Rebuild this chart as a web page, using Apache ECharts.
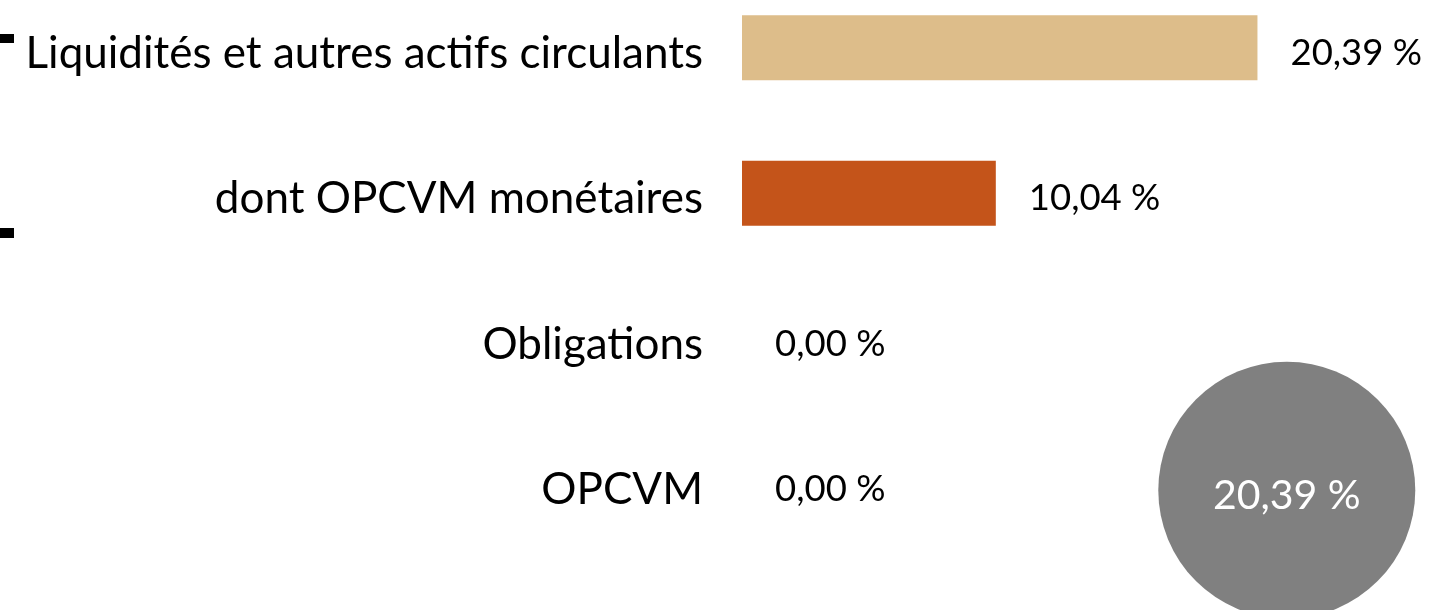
<!DOCTYPE html>
<html>
<head>
<meta charset="utf-8">
<script src="https://cdn.jsdelivr.net/npm/echarts@6/dist/echarts.min.js"></script>
<style>
html,body{margin:0;padding:0;background:#fff;}
#c{width:1431px;height:610px;}
</style>
</head>
<body>
<div id="c"></div>
<script>
const categories = ['Liquidités et autres actifs circulants', 'dont OPCVM monétaires', 'Obligations', 'OPCVM'];
const values = [20.39, 10.04, 0.00, 0.00];
const barColors = ['#DDBD8A', '#C4541A', '#C4541A', '#C4541A'];
const totalValue = 20.39;
const totalBadge = [[21.55, 'OPCVM']];

const fmt = v => v.toFixed(2).replace('.', ',') + ' %';
const FONT = 'Lato';

const chart = echarts.init(document.getElementById('c'));
chart.setOption({
  animation: false,
  backgroundColor: '#ffffff',
  grid: { left: 742, width: 632, top: -25, height: 582, containLabel: false, outerBoundsMode: 'none' },
  xAxis: {
    type: 'value', min: 0, max: 25, show: false
  },
  yAxis: {
    type: 'category', data: categories, inverse: true,
    axisLine: { show: false }, axisTick: { show: false }, splitLine: { show: false },
    axisLabel: {
      color: '#000', fontFamily: FONT, fontSize: 44, margin: 39,
      formatter: v => '{t|' + v + '}',
      rich: { t: { color: '#000', fontFamily: FONT, fontSize: 44, padding: [12, 0, 0, 0] } }
    }
  },
  series: [
    {
      type: 'bar', barWidth: 65,
      data: values.map((v, i) => ({ value: v, itemStyle: { color: barColors[i] } })),
      label: {
        show: true, position: 'right', distance: 33, offset: [0, 5],
        color: '#000', fontFamily: FONT, fontSize: 36.5,
        formatter: p => fmt(p.value)
      }
    },
    {
      type: 'scatter', symbol: 'circle', symbolSize: 257, symbolOffset: [0, 6],
      data: totalBadge,
      itemStyle: { color: '#808080', opacity: 1 },
      label: {
        show: true, position: 'inside', offset: [0, 6], color: '#fff', fontFamily: FONT, fontSize: 41,
        formatter: () => fmt(totalValue)
      },
      z: 1
    }
  ],
  graphic: [
    { type: 'rect', shape: { x: 0, y: 34, width: 14, height: 9 }, style: { fill: '#000' } },
    { type: 'rect', shape: { x: 0, y: 228, width: 14, height: 10 }, style: { fill: '#000' } }
  ]
});
</script>
</body>
</html>
